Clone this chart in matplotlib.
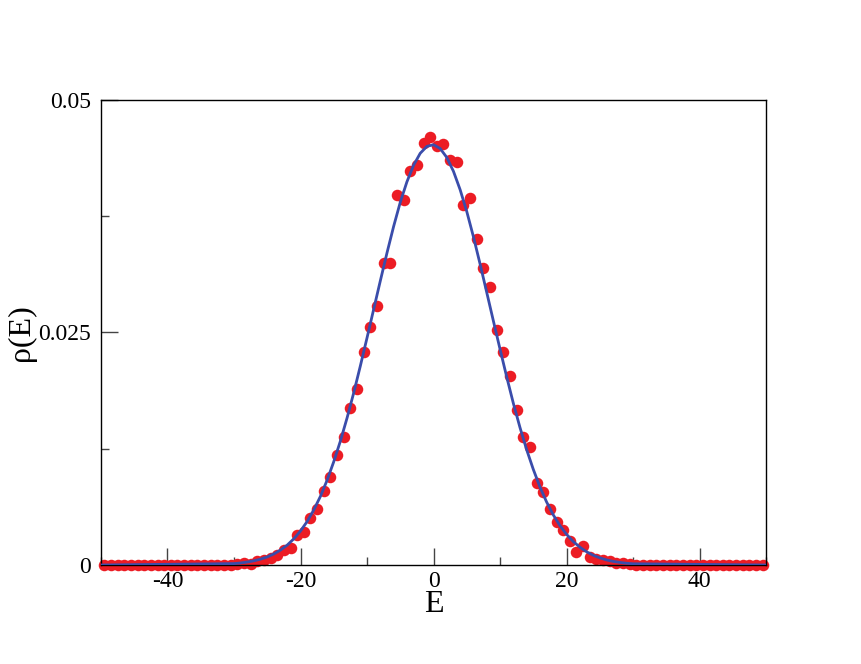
import numpy as np
import matplotlib
matplotlib.use("Agg")
import matplotlib.pyplot as plt
from matplotlib.ticker import MultipleLocator

# histogram of E (bin centres at half-integers, -49.5 .. 49.5)
e_hist = np.arange(-49.5, 50.0, 1.0)
rho_core = [
    0.0001, 0.0002, 0.0001, 0.0004, 0.0005, 0.0007, 0.0011, 0.0016, 0.0018, 0.0032,
    0.0035, 0.0050, 0.0060, 0.0080, 0.0095, 0.0118, 0.0138, 0.0169, 0.0189, 0.0229,
    0.0256, 0.0279, 0.0325, 0.0325, 0.0398, 0.0392, 0.0424, 0.0430, 0.0454, 0.0460,
    0.0450, 0.0453, 0.0435, 0.0433, 0.0387, 0.0395, 0.0351, 0.0319, 0.0299, 0.0253,
    0.0229, 0.0203, 0.0167, 0.0138, 0.0127, 0.0088, 0.0079, 0.0060, 0.0046, 0.0038,
    0.0026, 0.0014, 0.0020, 0.0009, 0.0006, 0.0005, 0.0004, 0.0002, 0.0002, 0.0001,
]  # E = -29.5 .. 29.5
rho_hist = [0.0] * 20 + rho_core + [0.0] * 20

# smooth curve, E = -30 .. 30
e_fit = np.arange(-30, 31, 1)
rho_fit = [
    0.00015, 0.00022, 0.00032, 0.00045, 0.00063, 0.00087, 0.00119, 0.00161, 0.00214, 0.00282,
    0.00366, 0.00468, 0.00593, 0.00739, 0.00912, 0.01111, 0.01333, 0.01581, 0.01851, 0.02141,
    0.02442, 0.02749, 0.03055, 0.03355, 0.03640, 0.03900, 0.04120, 0.04298, 0.04427, 0.04501,
    0.04519,
    0.04478, 0.04382, 0.04233, 0.04036, 0.03801, 0.03530, 0.03237, 0.02932, 0.02625, 0.02322,
    0.02024, 0.01740, 0.01479, 0.01241, 0.01029, 0.00840, 0.00678, 0.00540, 0.00424, 0.00330,
    0.00253, 0.00192, 0.00143, 0.00105, 0.00077, 0.00055, 0.00039, 0.00028, 0.00019, 0.00013,
]
e_line = np.concatenate([[-50], e_fit, [50]])
rho_line = [0.0] + rho_fit + [0.0]

plt.rcParams['font.family'] = ['Liberation Serif', 'DejaVu Serif']

fig = plt.figure(figsize=(8.61, 6.64), dpi=100)
ax = fig.add_axes([0.1173, 0.1491, 0.7724, 0.7003])

ax.plot(e_hist, rho_hist, 'o', color='#ec1c24', markersize=8.3, markeredgewidth=0, zorder=2, clip_on=False)
ax.plot(e_line, rho_line, '-', color='#3a4dab', linewidth=2.0, zorder=3)

ax.set_xlim(-50, 50)
ax.set_ylim(0, 0.05)
ax.xaxis.set_minor_locator(MultipleLocator(10))
ax.yaxis.set_minor_locator(MultipleLocator(0.0125))
ax.set_yticks([0, 0.025, 0.05])
ax.set_yticklabels(['0', '0.025', '0.05'])
ax.set_xticks([-40, -20, 0, 20, 40])
ax.set_xticklabels(['-40', '-20', '0', '20', '40'])

ax.tick_params(which='both', direction='in', top=False, right=False, labelsize=17, color='#444444')
ax.tick_params(which='major', length=12, width=1)
ax.tick_params(which='minor', length=6, width=1)
ax.tick_params(axis='x', pad=4)
ax.tick_params(axis='y', pad=7)
for s in ax.spines.values():
    s.set_linewidth(1.0)

ax.set_xlabel('E', fontsize=23, labelpad=-1)
ax.set_ylabel('ρ(E)', fontsize=23, labelpad=2)

fig.savefig('out.png', dpi=100)
